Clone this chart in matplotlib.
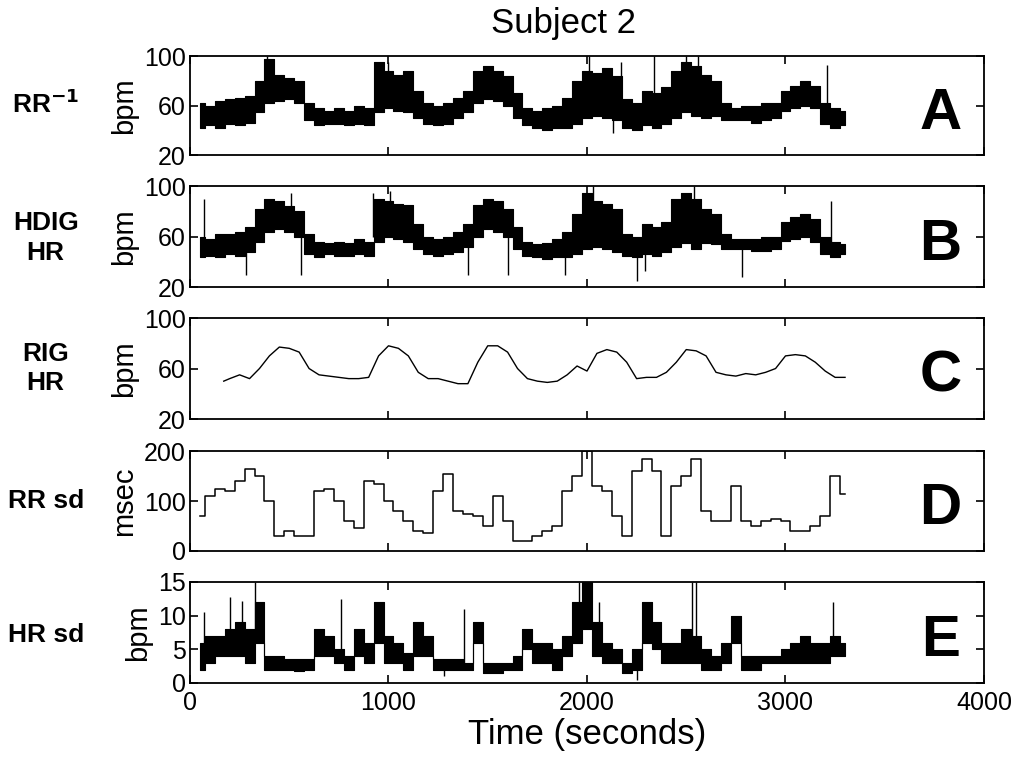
import numpy as np
import matplotlib
matplotlib.use("Agg")
import matplotlib.pyplot as plt

plt.rcParams['font.family'] = ['Liberation Sans', 'DejaVu Sans']

t = list(range(50, 3301, 50))
a_lo = [42,44,42,45,44,46,55,62,64,65,62,48,44,45,45,44,45,44,55,58,56,55,50,45,44,45,50,55,62,65,64,60,50,44,42,40,42,42,45,50,52,50,48,42,40,44,42,45,50,55,52,50,52,48,48,48,46,48,50,56,58,60,58,45,42,44]
a_hi = [62,60,64,65,66,68,80,98,85,82,80,62,58,56,58,56,60,58,95,88,85,88,72,62,60,62,66,72,88,92,88,84,70,58,56,58,60,66,80,88,86,90,84,65,62,72,70,75,88,95,92,85,80,62,58,60,60,62,62,72,76,80,76,62,58,56]
b_lo = [44,45,44,46,45,48,56,64,66,64,60,46,44,46,45,45,46,45,56,60,58,56,50,46,45,46,48,52,60,66,64,60,50,45,44,42,44,44,46,50,52,50,48,45,44,46,45,48,52,55,50,55,54,50,50,50,49,49,50,57,58,60,56,46,44,46]
b_hi = [60,58,62,62,64,68,82,90,88,84,80,62,56,55,56,55,58,56,90,88,86,85,70,60,58,60,64,70,85,90,88,82,68,56,54,55,58,64,78,95,88,86,82,62,60,70,68,72,90,95,90,82,78,62,58,58,58,60,60,72,76,78,74,60,56,54]
a_spk_t = [390, 930, 1000, 2010, 2130, 2170, 2500, 2560, 3210, 2340]
a_spk_v = [100, 95, 95, 100, 38, 95, 100, 100, 93, 100]
b_spk_t = [70, 280, 510, 560, 920, 1010, 1400, 1600, 1890, 2030, 2250, 2290, 2540, 2570, 2780, 3230]
b_spk_v = [90, 30, 95, 30, 95, 96, 30, 30, 30, 100, 25, 33, 100, 88, 28, 88]

c_t = [170] + list(range(200, 3301, 50))
c_v = [50,52,55,52,60,70,77,76,73,60,55,54,53,52,52,53,70,78,76,70,57,52,52,50,48,48,65,78,78,73,60,52,50,49,50,55,62,58,72,75,73,65,52,53,53,57,65,75,74,70,57,55,54,56,55,57,60,70,71,70,65,58,53,53]

d_v = [70,110,125,120,140,165,150,100,30,40,30,30,120,125,100,60,45,140,135,100,80,60,40,35,120,155,80,75,70,50,110,60,20,20,30,40,50,120,150,200,130,120,70,30,160,185,160,30,130,150,185,80,60,60,130,60,50,60,65,60,40,40,50,70,150,115]

e_lo = [2,3,4,4,4,3,6,2,2,2,1.8,2,4,4,3,2,4,3,6,3,3,2,4,4,2,2,2,2,6,1.5,1.5,2,2,5,3,3,2,4,6,8,4,3,3,1.5,2,6,5,3,3,3,3,2,2,3,6,2,2,3,3,3,3,3,3,3,4,4]
e_hi = [6,7,7,8,9,8,12,4,4,3.5,3.5,3.5,8,7,5,4,8,6,12,7,6,4.5,9,7,3.5,3.5,3.5,3,9,3,3,3,4,8,6,6,5,7,12,15,9,6,5,3,5,12,9,6,6,8,7,5,4,6,10,4,4,4,4,5,6,7,6,6,7,6]
e_spk_t = [70, 200, 260, 330, 760, 1280, 1380, 1960, 2000, 2060, 2250, 2530, 2550, 3240]
e_spk_v = [10.5, 12.8, 12.2, 15, 12.5, 1, 11, 15, 15, 12, 0.5, 15, 15, 12]

fig = plt.figure(figsize=(10.16, 7.68), dpi=100)
L, W = 0.187, 0.7815
pos = [(0.798, 0.129), (0.626, 0.1315), (0.4544, 0.1315), (0.2826, 0.130), (0.1107, 0.1315)]
axes = [fig.add_axes([L, b, W, h]) for b, h in pos]

def band(ax, lo, hi, st, sv, base):
    ax.fill_between(t, lo, hi, color='black', linewidth=0.8, edgecolor='black', step='mid')
    ax.vlines(st, [np.interp(s, t, base) for s in st], sv, color='black', lw=1)

mid_a = [(x + y) / 2 for x, y in zip(a_lo, a_hi)]
mid_b = [(x + y) / 2 for x, y in zip(b_lo, b_hi)]
mid_e = [(x + y) / 2 for x, y in zip(e_lo, e_hi)]
band(axes[0], a_lo, a_hi, a_spk_t, a_spk_v, mid_a)
band(axes[1], b_lo, b_hi, b_spk_t, b_spk_v, mid_b)
axes[2].plot(c_t, c_v, color='black', lw=1)
axes[3].step(t, d_v, color='black', lw=1.1, where='mid')
band(axes[4], e_lo, e_hi, e_spk_t, e_spk_v, mid_e)

ylims = [(20, 100), (20, 100), (20, 100), (0, 200), (0, 15)]
yt = [[20, 60, 100], [20, 60, 100], [20, 60, 100], [0, 100, 200], [0, 5, 10, 15]]
ylabs = ['bpm', 'bpm', 'bpm', 'msec', 'bpm']
letters = ['A', 'B', 'C', 'D', 'E']
for i, ax in enumerate(axes):
    ax.set_xlim(0, 4000)
    ax.set_ylim(*ylims[i])
    ax.set_yticks(yt[i])
    ax.set_xticks([0, 1000, 2000, 3000, 4000])
    ax.tick_params(direction='in', top=True, right=True, labelsize=18, length=6, width=1.2, pad=3)
    if i < 4:
        ax.set_xticklabels([])
    for s in ax.spines.values():
        s.set_linewidth(1.3)
    ax.set_ylabel(ylabs[i], fontsize=21, labelpad=4)
    ax.text(0.945, 0.42, letters[i], transform=ax.transAxes, fontsize=42,
            fontweight='bold', ha='center', va='center')
axes[4].tick_params(axis='x', labelsize=18, pad=6)
axes[4].set_xlabel('Time (seconds)', fontsize=25, labelpad=2)

fig.text(0.555, 0.97, 'Subject 2', fontsize=25, ha='center', va='center')
side = [(0.045, 0.865, 'RR$^{\\mathbf{-1}}$'), (0.045, 0.69, 'HDIG\nHR'), (0.045, 0.52, 'RIG\nHR'),
        (0.045, 0.348, 'RR sd'), (0.045, 0.173, 'HR sd')]
for x, y, s in side:
    fig.text(x, y, s, fontsize=19, fontweight='bold', ha='center', va='center', linespacing=1.3)

fig.savefig('out.png', dpi=100)
